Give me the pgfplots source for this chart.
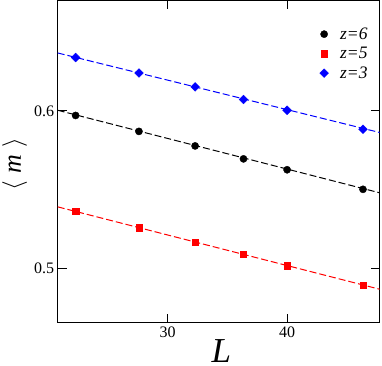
\documentclass[border=0pt]{standalone}
\usepackage{fontspec}
\setmainfont{Liberation Serif}
\usepackage{pgfplots}
\pgfplotsset{compat=1.18}
\definecolor{ZSIX}{HTML}{000000}
\definecolor{ZFIVE}{HTML}{FF0000}
\definecolor{ZTHREE}{HTML}{0000FF}

\begin{document}
\begin{tikzpicture}
\begin{axis}[
  scale only axis,
  width=322pt,
  height=322.3pt,
  xmin=20.8, xmax=47.75,
  ymin=0.4658, ymax=0.670,
  xtick={30,40},
  ytick={0.5,0.6},
  yticklabel style={/pgf/number format/fixed,/pgf/number format/precision=1},
  /pgf/number format/assume math mode=true,
  tick align=inside,
  major tick length=9pt,
  minor tick num=0,
  axis line style={line width=0.9pt},
  tick style={line width=0.9pt, black},
  ticklabel style={font=\fontsize{16}{18}\selectfont},
  xticklabel style={yshift=-1pt},
  xlabel={\textit{L}},
  ylabel={$\langle$\;\textit{m}\;$\rangle$},
  xlabel style={font=\fontsize{35}{38}\selectfont, at={(axis description cs:0.508,-0.089)}, anchor=center, inner sep=0pt},
  ylabel style={font=\fontsize{26}{28}\selectfont, at={(axis description cs:-0.134,0.493)}, anchor=center, inner sep=0pt},
  legend style={draw=none, fill=none, at={(1,1)}, anchor=north east, xshift=-10pt, yshift=-25pt,
    font=\fontsize{17.5}{19}\selectfont\itshape, row sep=2.5pt, inner sep=0pt},
  legend cell align=left,
  legend image code/.code={\draw[#1] plot coordinates {(0pt,0pt)}; \path[draw=none, fill=none] (-6pt,-3pt) rectangle (14pt,3pt);},
]
% fits
\addplot[forget plot, ZSIX, line width=1pt, dash pattern=on 7pt off 3pt] coordinates {(20.8,0.6004) (47.75,0.5481)};
\addplot[forget plot, ZFIVE, line width=1pt, dash pattern=on 7pt off 3pt] coordinates {(20.8,0.5392) (47.75,0.4870)};
\addplot[forget plot, ZTHREE, line width=1pt, dash pattern=on 7pt off 3pt] coordinates {(20.8,0.6367) (47.75,0.5863)};
% data
\addplot[only marks, mark=*, mark size=3.6pt, ZSIX] coordinates {
(22.3,0.5971) (27.6,0.5870) (32.3,0.5778) (36.35,0.5696) (40.0,0.5627) (46.35,0.5503)};
\addlegendentry{z=6}
\addplot[only marks, mark=square*, mark size=3.2pt, ZFIVE] coordinates {
(22.3,0.5365) (27.6,0.5259) (32.3,0.5169) (36.35,0.5091) (40.0,0.5019) (46.35,0.4895)};
\addlegendentry{z=5}
\addplot[only marks, mark=square*, mark size=3.1pt, mark options={rotate=45}, ZTHREE] coordinates {
(22.3,0.6338) (27.6,0.6240) (32.3,0.6152) (36.35,0.6072) (40.0,0.6004) (46.35,0.5884)};
\addlegendentry{z=3}
\end{axis}
\pgfresetboundingbox
\path[use as bounding box] (-57.7pt,-42.3pt) rectangle (324.3pt,322.7pt);
\end{tikzpicture}
\end{document}
